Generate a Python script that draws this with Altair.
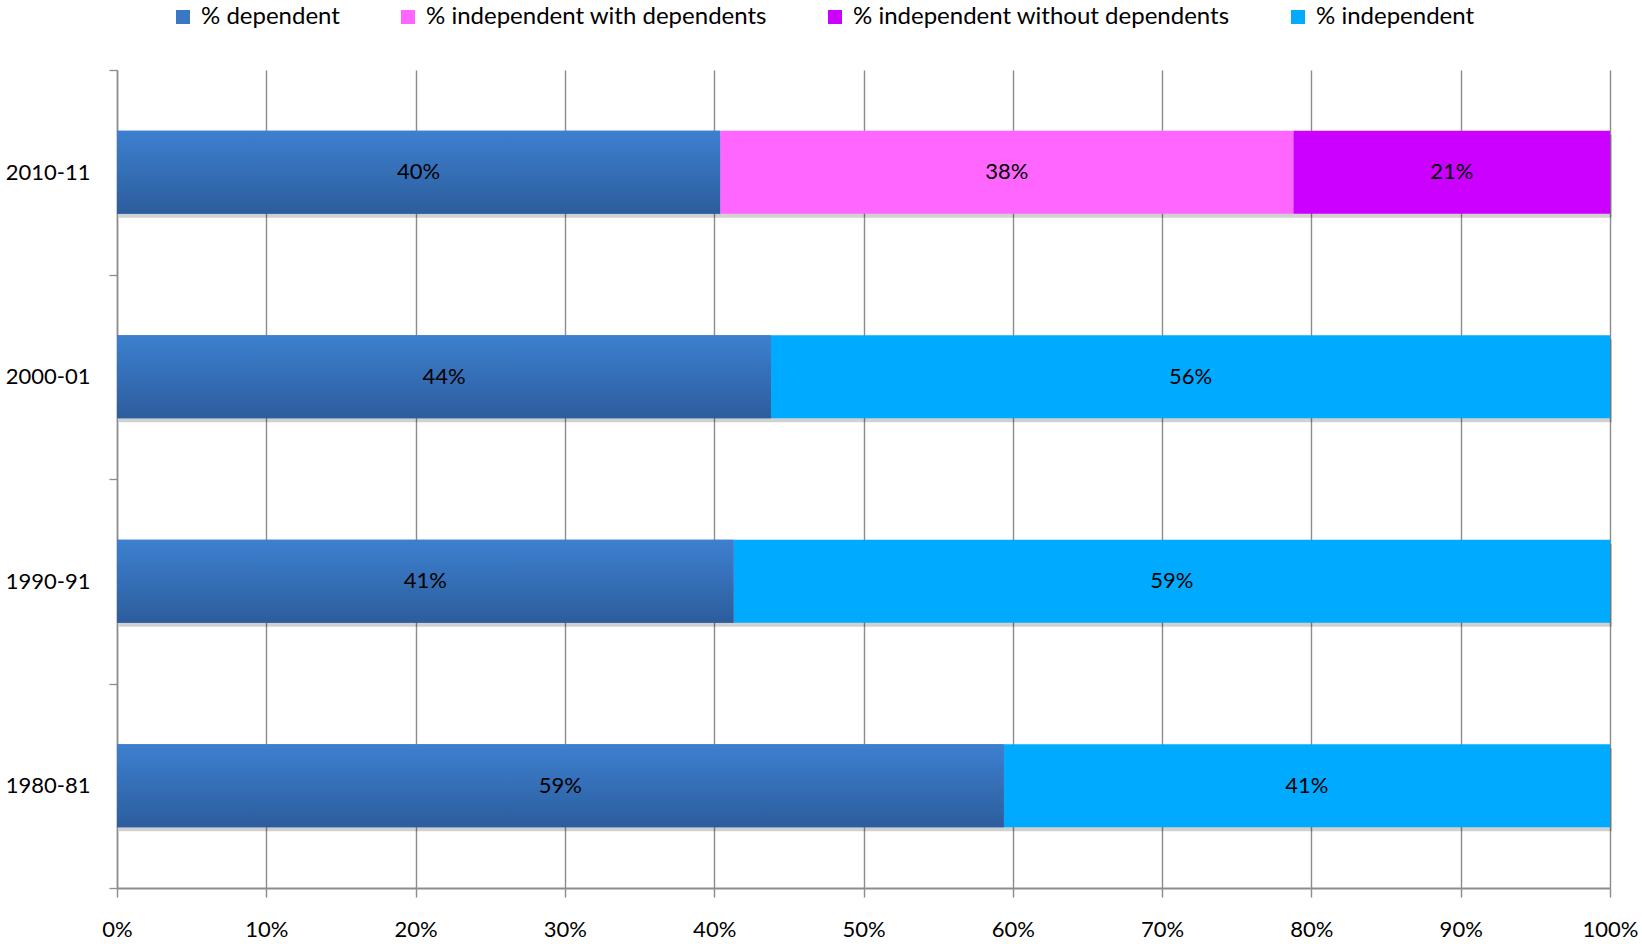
import altair as alt
import pandas as pd

years = ["2010-11", "2000-01", "1990-91", "1980-81"]
series = ["% dependent", "% independent with dependents",
          "% independent without dependents", "% independent"]
colors = ["#3A78C4", "#FF66FF", "#CC00FF", "#00AAFF"]

dependent = [40.4, 43.8, 41.3, 59.4]
indep_with = [38.4, None, None, None]
indep_without = [21.2, None, None, None]
independent = [None, 56.2, 58.7, 40.6]

rows = []
for i, yr in enumerate(years):
    start = 0.0
    for s, vals in zip(series, [dependent, indep_with, indep_without, independent]):
        v = vals[i]
        if v is None:
            continue
        rows.append({"year": yr, "series": s, "start": start, "end": start + v,
                     "mid": start + v / 2, "label": f"{round(v)}%"})
        start += v
df = pd.DataFrame(rows)

FONT = "Lato"
GRID = "#8C8C8C"
BAND = alt.RelativeBandSize(0.406)

y_enc = alt.Y("year:N", sort=years,
              scale=alt.Scale(paddingInner=0, paddingOuter=0),
              axis=alt.Axis(title=None, tickBand="extent", grid=False,
                            domainColor=GRID, domainWidth=1.5, tickColor=GRID,
                            tickWidth=1.3, tickSize=8, labelFontSize=22,
                            labelColor="black", labelPadding=19, labelFont=FONT))
x_enc = alt.X("start:Q", scale=alt.Scale(domain=[0, 100], nice=False),
              axis=alt.Axis(title=None, values=list(range(0, 101, 10)),
                            labelExpr="datum.value + '%'", grid=True,
                            gridColor=GRID, gridWidth=1.4, domainColor=GRID,
                            domainWidth=2, tickColor=GRID, tickWidth=1.4,
                            tickSize=9, labelFontSize=22, labelColor="black",
                            labelPadding=22, labelFont=FONT, labelFlush=False))

base = alt.Chart(df)

shadow = base.mark_bar(color="#000000", opacity=0.18, height=BAND, xOffset=2,
                       yOffset=4, x2Offset=2).encode(
    x=x_enc, x2="end:Q", y=y_enc)

bars = base.mark_bar(height=BAND).encode(
    x=x_enc, x2="end:Q", y=y_enc,
    color=alt.Color("series:N", scale=alt.Scale(domain=series, range=colors),
                    legend=alt.Legend(orient="none", legendX=54, legendY=-65,
                                      direction="horizontal", title=None,
                                      symbolType="square", symbolSize=196,
                                      symbolStrokeWidth=0, labelFontSize=24,
                                      labelFont=FONT, labelColor="black",
                                      labelOffset=6, columnPadding=56,
                                      labelLimit=600)))

grad = base.transform_filter(alt.datum.series == "% dependent").mark_bar(
    height=BAND,
    color=alt.Gradient(gradient="linear",
                       stops=[alt.GradientStop(color="#3D80D0", offset=0),
                              alt.GradientStop(color="#2C5D9C", offset=1)],
                       x1=0, x2=0, y1=0, y2=1)
).encode(x=x_enc, x2="end:Q", y=y_enc)

text = base.mark_text(fontSize=22, font=FONT, color="black").encode(
    x="mid:Q", y=alt.Y("year:N", sort=years), text="label:N")

chart = alt.layer(shadow, bars, grad, text).properties(
    width=1493, height=818,
    autosize=alt.AutoSizeParams(type="none"),
    padding={"left": 117, "top": 70, "right": 32, "bottom": 56},
    background="white",
).configure_view(strokeWidth=0)

chart.save("out.html", embed_options={"renderer": "svg", "actions": False})
